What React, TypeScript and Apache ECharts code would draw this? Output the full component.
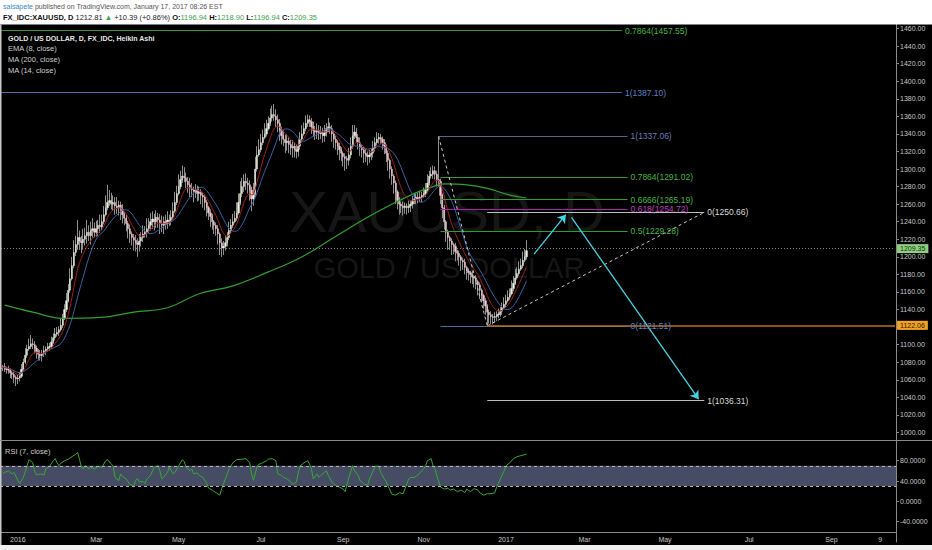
import { useEffect, useRef } from "react";
import * as echarts from "echarts";

// x axis: one category per weekday, Dec 21 2015 .. Oct 19 2017
const FIRST_DAY = "2015-12-21";
const BAR_COUNT = 479;

const tickDates = ["2016-01-01", "2016-03-01", "2016-05-02", "2016-07-01", "2016-09-01", "2016-11-01",
    "2017-01-02", "2017-03-01", "2017-05-01", "2017-07-03", "2017-09-01", "2017-10-09"];
const tickLabels = ["2016", "Mar", "May", "Jul", "Sep", "Nov", "2017", "Mar", "May", "Jul", "Sep", "9"];

const priceTicks = [1000, 1020, 1040, 1060, 1080, 1100, 1120, 1140, 1160, 1180, 1200, 1220, 1240, 1260,
    1280, 1300, 1320, 1340, 1360, 1380, 1400, 1420, 1440, 1460];
const rsiTicks = [-40, 0, 40, 80];

// Heikin Ashi closes, one per bar (Dec 21 2015 .. Jan 17 2017)
const haOpenFirst = 1073;
const haClose = [
    1074, 1075, 1072, 1073, 1071, 1068, 1066, 1063, 1061, 1062,
    1064, 1072, 1080, 1088, 1095, 1098, 1101, 1100, 1096, 1092,
    1089, 1087, 1090, 1093, 1095, 1097, 1098, 1103, 1108, 1112,
    1114, 1117, 1122, 1130, 1140, 1150, 1162, 1175, 1190, 1205,
    1214, 1222, 1218, 1216, 1220, 1224, 1228, 1224, 1230, 1232,
    1228, 1232, 1236, 1234, 1240, 1248, 1256, 1262, 1264, 1260,
    1262, 1258, 1256, 1259, 1254, 1248, 1244, 1238, 1232, 1226,
    1222, 1219, 1216, 1214, 1218, 1222, 1226, 1228, 1232, 1236,
    1240, 1243, 1240, 1245, 1242, 1238, 1236, 1240, 1238, 1242,
    1240, 1245, 1252, 1262, 1272, 1280, 1288, 1292, 1290, 1286,
    1282, 1278, 1276, 1274, 1276, 1272, 1274, 1270, 1268, 1262,
    1256, 1250, 1246, 1240, 1236, 1232, 1226, 1216, 1210, 1212,
    1216, 1222, 1230, 1236, 1240, 1244, 1250, 1262, 1272, 1280,
    1286, 1284, 1282, 1276, 1266, 1272, 1300, 1316, 1322, 1330,
    1336, 1340, 1346, 1352, 1358, 1362, 1360, 1356, 1352, 1344,
    1338, 1334, 1330, 1332, 1328, 1324, 1326, 1322, 1320, 1326,
    1334, 1340, 1346, 1352, 1356, 1354, 1348, 1344, 1342, 1344,
    1340, 1342, 1338, 1342, 1346, 1348, 1346, 1340, 1334, 1330,
    1326, 1322, 1318, 1314, 1312, 1310, 1316, 1326, 1338, 1342,
    1336, 1330, 1325, 1322, 1318, 1316, 1314, 1316, 1318, 1324,
    1330, 1334, 1336, 1334, 1330, 1326, 1318, 1310, 1300, 1292,
    1284, 1274, 1264, 1260, 1258, 1256, 1258, 1256, 1258, 1260,
    1264, 1266, 1268, 1266, 1268, 1270, 1272, 1276, 1284, 1292,
    1294, 1298, 1294, 1288, 1286, 1270, 1256, 1240, 1228, 1222,
    1218, 1214, 1212, 1206, 1204, 1200, 1196, 1194, 1188, 1184,
    1182, 1180, 1177, 1176, 1172, 1168, 1162, 1156, 1150, 1144,
    1137, 1134, 1132, 1131, 1132, 1134, 1135, 1138, 1142, 1146,
    1150, 1154, 1158, 1164, 1170, 1176, 1181, 1186, 1190, 1196,
    1200, 1207,
];
// wick length above / below the body, per bar
const wickUp = [
    3, 2, 4, 2, 3, 2, 2, 3, 2, 4,
    5, 6, 4, 8, 5, 9, 10, 6, 4, 3,
    3, 5, 4, 6, 3, 5, 4, 6, 5, 7,
    6, 4, 8, 5, 6, 9, 7, 12, 10, 14,
    10, 20, 8, 6, 12, 9, 14, 8, 10, 12,
    7, 9, 6, 12, 8, 10, 14, 20, 12, 9,
    8, 6, 10, 5, 4, 6, 3, 4, 3, 5,
    3, 4, 6, 5, 8, 6, 10, 7, 12, 8,
    10, 9, 6, 8, 5, 7, 9, 6, 8, 10,
    6, 8, 10, 12, 9, 14, 10, 12, 10, 6,
    5, 8, 6, 4, 7, 5, 6, 3, 4, 3,
    3, 2, 4, 3, 2, 3, 4, 2, 5, 6,
    8, 6, 10, 7, 9, 8, 12, 10, 14, 10,
    8, 9, 6, 5, 4, 12, 14, 10, 12, 10,
    9, 12, 10, 8, 11, 10, 12, 8, 6, 5,
    4, 6, 5, 8, 4, 5, 7, 4, 6, 8,
    8, 10, 7, 9, 6, 5, 4, 6, 5, 8,
    6, 7, 5, 8, 6, 10, 5, 4, 3, 4,
    3, 4, 3, 2, 4, 3, 8, 10, 12, 8,
    5, 4, 6, 3, 4, 5, 4, 6, 5, 8,
    6, 8, 5, 4, 3, 4, 2, 3, 2, 3,
    2, 3, 2, 4, 3, 5, 4, 3, 6, 4,
    5, 6, 4, 5, 6, 4, 7, 8, 10, 6,
    8, 6, 5, 4, 49, 3, 2, 3, 2, 3,
    2, 3, 2, 4, 2, 3, 2, 3, 4, 2,
    3, 2, 4, 2, 3, 2, 3, 2, 2, 3,
    2, 3, 4, 3, 5, 4, 6, 5, 6, 8,
    7, 8, 6, 9, 8, 10, 7, 9, 8, 10,
    9, 12,
];
const wickDn = [
    3, 4, 3, 5, 4, 6, 5, 7, 8, 6,
    4, 2, 3, 2, 3, 2, 3, 5, 6, 8,
    7, 5, 6, 4, 5, 3, 4, 3, 2, 3,
    3, 4, 2, 3, 2, 3, 2, 3, 2, 3,
    4, 6, 10, 12, 8, 7, 9, 6, 10, 8,
    6, 5, 8, 7, 4, 3, 2, 3, 4, 6,
    8, 10, 7, 9, 12, 10, 8, 9, 11, 10,
    9, 12, 10, 14, 8, 6, 5, 4, 6, 5,
    6, 8, 10, 7, 9, 12, 8, 10, 7, 6,
    5, 4, 3, 2, 3, 2, 3, 4, 5, 8,
    9, 10, 8, 12, 7, 9, 8, 10, 12, 9,
    10, 8, 12, 9, 10, 8, 12, 14, 10, 8,
    5, 4, 3, 4, 3, 2, 3, 2, 3, 4,
    6, 8, 10, 12, 14, 8, 4, 3, 2, 3,
    3, 2, 3, 2, 3, 4, 5, 8, 10, 12,
    10, 8, 12, 9, 10, 8, 11, 9, 8, 6,
    4, 3, 2, 3, 4, 6, 8, 7, 9, 8,
    7, 6, 8, 7, 5, 4, 6, 9, 10, 8,
    10, 12, 9, 11, 14, 10, 6, 4, 3, 4,
    6, 8, 10, 9, 11, 8, 10, 7, 6, 5,
    4, 3, 5, 6, 8, 9, 10, 12, 11, 10,
    12, 14, 10, 12, 8, 9, 7, 8, 6, 7,
    5, 4, 6, 5, 4, 6, 3, 4, 2, 3,
    3, 5, 6, 8, 6, 10, 12, 9, 11, 14,
    10, 12, 9, 11, 8, 10, 12, 9, 8, 10,
    9, 10, 8, 11, 9, 12, 10, 8, 9, 10,
    15, 10, 9, 8, 6, 5, 4, 3, 4, 2,
    3, 2, 3, 2, 3, 2, 2, 3, 2, 3,
    2, 3,
];

// MA(200) at these bars
const ma200Bars = [2, 17, 33, 53, 71, 89, 106, 124, 142, 160, 178, 196, 210, 223, 231, 237, 249, 260, 271, 281];
const ma200Vals = [1145, 1137, 1130, 1131, 1137, 1142, 1158, 1167, 1182, 1199, 1222, 1245, 1261, 1274, 1280, 1283, 1282, 1278, 1271, 1267];

// RSI(7) [bar, value]
const rsiPoints = [
    [1, 55], [2, 57], [4, 60], [6, 54], [7, 57], [9, 41], [10, 35], [12, 47], [14, 70], [15, 82], [17, 76], [18, 60],
    [19, 52], [21, 54], [23, 52], [24, 64], [26, 69], [28, 80], [29, 84], [30, 76], [31, 70], [32, 75], [34, 80],
    [36, 83], [38, 88], [40, 93], [41, 96], [42, 83], [43, 67], [44, 64], [45, 70], [47, 64], [48, 67], [50, 64],
    [52, 69], [54, 67], [56, 80], [57, 82], [59, 73], [60, 70], [61, 47], [63, 41], [64, 54], [65, 49], [67, 44],
    [68, 38], [69, 33], [71, 31], [72, 41], [73, 45], [74, 38], [76, 39], [77, 35], [78, 44], [80, 51], [81, 60],
    [82, 67], [84, 70], [85, 60], [86, 44], [87, 47], [89, 57], [90, 67], [92, 54], [93, 57], [95, 70], [97, 82],
    [98, 78], [99, 67], [101, 60], [102, 64], [103, 54], [105, 56], [106, 51], [108, 47], [110, 35], [111, 26],
    [113, 22], [115, 17], [117, 12], [118, 25], [120, 44], [122, 64], [124, 76], [126, 82], [129, 83], [131, 84],
    [133, 76], [134, 54], [135, 41], [137, 70], [138, 73], [140, 76], [142, 80], [143, 83], [145, 84], [147, 80],
    [148, 54], [150, 51], [151, 47], [153, 44], [155, 38], [156, 33], [158, 38], [159, 57], [160, 70], [162, 76],
    [164, 80], [165, 73], [166, 64], [167, 44], [169, 54], [170, 47], [171, 51], [173, 57], [174, 60], [175, 51],
    [177, 38], [179, 31], [181, 28], [183, 24], [184, 19], [186, 47], [188, 70], [189, 60], [191, 51], [192, 41],
    [194, 35], [196, 31], [197, 44], [199, 60], [200, 69], [202, 69], [203, 57], [205, 44], [206, 38], [208, 22],
    [209, 14], [211, 12], [213, 17], [215, 15], [216, 25], [218, 44], [219, 47], [221, 47], [223, 52], [224, 56],
    [226, 64], [227, 70], [228, 80], [230, 84], [231, 70], [232, 64], [233, 51], [235, 28], [237, 24], [239, 26],
    [240, 22], [242, 24], [244, 19], [246, 22], [248, 17], [249, 24], [251, 19], [253, 25], [255, 22], [256, 17],
    [258, 12], [260, 15], [262, 15], [264, 17], [265, 28], [267, 44], [269, 60], [270, 70], [272, 76], [274, 84],
    [276, 88], [278, 90], [281, 93],
];

// drawings: fib levels, trend legs, arrows, horizontal lines
const fibLines = [
    {text: "0.7864(1457.55)", price: 1457.55, from: 0, to: 332, tone: "green"},
    {text: "1(1387.10)", price: 1387.10, from: 0, to: 332, tone: "blue"},
    {text: "1(1337.06)", price: 1337.06, from: 234, to: 335, tone: "slate"},
    {text: "0.7864(1291.02)", price: 1291.02, from: 235, to: 335, tone: "green"},
    {text: "0.6666(1265.19)", price: 1265.19, from: 235, to: 335, tone: "green"},
    {text: "0.618(1254.72)", price: 1254.72, from: 235, to: 335, tone: "magenta"},
    {text: "0.5(1229.28)", price: 1229.28, from: 235, to: 335, tone: "green"},
    {text: "0(1121.51)", price: 1121.51, from: 235, to: 335, tone: "blue"},
    {text: "0(1250.66)", price: 1250.66, from: 260, to: 376, tone: "white"},
    {text: "1(1036.31)", price: 1036.31, from: 260, to: 376, tone: "white"},
];
const trendLegs = [
    [[234, 1337.06], [260, 1121.51]],
    [[260, 1121.51], [376, 1250.66]],
];
const arrows = [
    [[285, 1203], [302, 1248]],
    [[305, 1245], [373, 1038]],
];
const lastPrice = {price: 1209.35, from: 0, to: 478};
const hLine = {price: 1122.06, from: 260, to: 478};

const FONT = "Liberation Sans, DejaVu Sans, Arial, sans-serif";
const TONES: Record<string, { line: string; text: string }> = {
    green: {line: "#2f9e2f", text: "#45b845"},
    blue: {line: "#4c6cac", text: "#5f80c4"},
    slate: {line: "#58648a", text: "#6a7fb8"},
    magenta: {line: "#a826a8", text: "#c23cc2"},
    white: {line: "#bcbcbc", text: "#d8d8d8"},
};

function buildDates() {
    const out: string[] = [];
    const d = new Date(FIRST_DAY + "T00:00:00Z");
    while (out.length < BAR_COUNT) {
        const wd = d.getUTCDay();
        if (wd !== 0 && wd !== 6) out.push(d.toISOString().slice(0, 10));
        d.setUTCDate(d.getUTCDate() + 1);
    }
    return out;
}

function boxLabel(text: string, bg: string, fg: string) {
    return {show: true, position: "end", distance: 2, formatter: text, color: fg, backgroundColor: bg,
        padding: [1, 3, 1, 3], fontSize: 7, fontFamily: FONT};
}

function buildOption() {
    const dates = buildDates();
    const opens = haClose.map((_, i) => (i === 0 ? haOpenFirst : haClose[i - 1]));
    const wicks = haClose.map((c, i) => {
        const o = opens[i];
        return [o, c, Math.min(o, c) - wickDn[i], Math.max(o, c) + wickUp[i]];
    });
    const bodies = haClose.map((c, i) => {
        const o = opens[i];
        return [o, c, Math.min(o, c), Math.max(o, c)];
    });

    const k = 2 / 9;
    let e = haClose[0];
    const ema8 = haClose.map((c, i) => {
        e = i === 0 ? c : c * k + e * (1 - k);
        return +e.toFixed(2);
    });
    const ma14 = haClose.map((_, i) => {
        const s = haClose.slice(Math.max(0, i - 13), i + 1);
        return +(s.reduce((a, b) => a + b, 0) / s.length).toFixed(2);
    });
    const ma200 = ma200Bars.map((b, i) => [b, ma200Vals[i]]);

    const fibData = fibLines.map(f => [
        {
            coord: [f.from, f.price],
            lineStyle: {color: TONES[f.tone].line, width: 1, type: "solid"},
            label: {show: true, position: "end", distance: 3, formatter: f.text, color: TONES[f.tone].text, fontSize: 8.5, fontFamily: FONT},
        },
        {coord: [f.to, f.price]},
    ]);
    const legData = trendLegs.map(l => [{coord: l[0]}, {coord: l[1]}]);
    const arrowData = arrows.map(l => [{coord: l[0]}, {coord: l[1]}]);

    const axisText = {color: "#c8c8c8", fontSize: 7, fontFamily: FONT};
    const labelOn = (_i: number, v: string) => tickDates.includes(v);
    const noHover = {disabled: true};

    return {
        animation: false,
        backgroundColor: "#000",
        grid: [
            {left: 0, right: 36, top: 10.92, height: 439.15},
            {left: 0, right: 36, top: 440.4, height: 101.5},
            {left: 0, right: 36, top: 441, height: 91},
        ],
        xAxis: [
            {type: "category", gridIndex: 0, data: dates, show: false},
            {type: "category", gridIndex: 1, data: dates, show: false},
            {
                type: "category", gridIndex: 2, data: dates,
                axisLine: {lineStyle: {color: "#8a8a8a"}},
                axisTick: {interval: labelOn, alignWithLabel: true, length: 3, lineStyle: {color: "#8a8a8a"}},
                axisLabel: {...axisText, margin: 4, interval: labelOn, formatter: (v: string) => tickLabels[tickDates.indexOf(v)] ?? ""},
                splitLine: {show: false},
            },
        ],
        yAxis: [
            {
                type: "value", gridIndex: 0, position: "right", min: 980, max: 1480, interval: 20,
                axisLine: {show: true, lineStyle: {color: "#8a8a8a"}},
                axisTick: {show: true, length: 3, customValues: priceTicks, lineStyle: {color: "#8a8a8a"}},
                axisLabel: {...axisText, margin: 4, customValues: priceTicks, formatter: (v: number) => v.toFixed(2)},
                splitLine: {show: false},
            },
            {
                type: "value", gridIndex: 1, position: "right", min: -80, max: 120, interval: 40,
                axisLine: {show: true, lineStyle: {color: "#8a8a8a"}},
                axisTick: {show: true, length: 3, customValues: rsiTicks, lineStyle: {color: "#8a8a8a"}},
                axisLabel: {...axisText, margin: 4, customValues: rsiTicks, formatter: (v: number) => v.toFixed(4)},
                splitLine: {show: false},
            },
            {type: "value", gridIndex: 2, show: false, min: 0, max: 1},
        ],
        series: [
            {
                type: "candlestick", xAxisIndex: 0, yAxisIndex: 0, data: wicks, barWidth: 0.6,
                itemStyle: {color: "#8f8f8f", color0: "#8f8f8f", borderColor: "#8f8f8f", borderColor0: "#8f8f8f", borderWidth: 1},
                emphasis: noHover,
            },
            {
                type: "candlestick", xAxisIndex: 0, yAxisIndex: 0, data: bodies, barWidth: 1.7,
                itemStyle: {color: "#eaf6e0", color0: "#f6cad3", borderColor: "#eaf6e0", borderColor0: "#f6cad3", borderWidth: 0.4},
                emphasis: noHover,
            },
            {
                type: "line", xAxisIndex: 0, yAxisIndex: 0, data: ma200, smooth: 0.4, symbol: "none",
                lineStyle: {color: "#2ea12e", width: 1.2},
            },
            {
                type: "line", xAxisIndex: 0, yAxisIndex: 0, data: ma14, symbol: "none",
                lineStyle: {color: "#3f5ea8", width: 1},
                markLine: {silent: true, symbol: ["none", "none"], emphasis: noHover, data: fibData},
            },
            {
                type: "line", xAxisIndex: 0, yAxisIndex: 0, data: ema8, symbol: "none",
                lineStyle: {color: "#a01c1c", width: 1},
                markLine: {
                    silent: true, symbol: ["none", "none"], emphasis: noHover, label: {show: false},
                    lineStyle: {color: "#c8c8c8", width: 1, type: [3, 3]}, data: legData,
                },
            },
            {
                type: "line", xAxisIndex: 0, yAxisIndex: 0, data: [], symbol: "none",
                markLine: {
                    silent: true, symbol: ["none", "arrow"], symbolSize: 8, emphasis: noHover, label: {show: false},
                    lineStyle: {color: "#3ed6e6", width: 1.3, type: "solid"}, itemStyle: {color: "#3ed6e6"}, data: arrowData,
                },
            },
            {
                type: "line", xAxisIndex: 0, yAxisIndex: 0, data: [], symbol: "none",
                markLine: {
                    silent: true, symbol: ["none", "none"], emphasis: noHover,
                    lineStyle: {color: "#8a8a8a", width: 1, type: [1, 2]},
                    label: boxLabel(lastPrice.price.toFixed(2), "#8fcf7f", "#14340f"),
                    data: [[{coord: [lastPrice.from, lastPrice.price]}, {coord: [lastPrice.to, lastPrice.price]}]],
                },
            },
            {
                type: "line", xAxisIndex: 0, yAxisIndex: 0, data: [], symbol: "none", color: "#b8701f",
                markLine: {
                    silent: true, symbol: ["none", "none"], emphasis: noHover,
                    lineStyle: {color: "#b8701f", width: 1.6, type: "solid", opacity: 1},
                    label: boxLabel(hLine.price.toFixed(2), "#f3a21f", "#2a1800"),
                    data: [[{coord: [hLine.from, hLine.price]}, {coord: [hLine.to, hLine.price]}]],
                },
            },
            {
                type: "line", xAxisIndex: 1, yAxisIndex: 1, data: rsiPoints, symbol: "none",
                lineStyle: {color: "#36a936", width: 1},
                markArea: {silent: true, itemStyle: {color: "#454c63"}, data: [[{yAxis: 30}, {yAxis: 70}]]},
                markLine: {
                    silent: true, symbol: ["none", "none"], label: {show: false}, emphasis: noHover,
                    lineStyle: {color: "#b4b4b4", width: 1, type: [3, 3]},
                    data: [{yAxis: 70}, {yAxis: 30}],
                },
            },
        ],
        graphic: [
            {type: "text", x: 447, y: 211, z: 0, style: {text: "XAUUSD, D", fill: "#161616", fontSize: 58, fontFamily: FONT, align: "center", verticalAlign: "middle"}},
            {type: "text", x: 449, y: 268, z: 0, style: {text: "GOLD / US DOLLAR", fill: "#161616", fontSize: 29, fontFamily: FONT, align: "center", verticalAlign: "middle"}},
            {type: "rect", z: 100, shape: {x: 0, y: 0, width: 932, height: 24.5}, style: {fill: "#ffffff"}},
            {type: "rect", z: 100, shape: {x: 0, y: 545, width: 932, height: 5}, style: {fill: "#f0f0f0"}},
            {type: "rect", z: 100, shape: {x: 0, y: 24.5, width: 1.5, height: 520.5}, style: {fill: "#c8c8c8"}},
            {type: "rect", z: 100, shape: {x: 0, y: 440, width: 932, height: 1}, style: {fill: "#8a8a8a"}},
            {
                type: "text", x: 3, y: 6.5, z: 101,
                style: {
                    text: "{u|salsapete}{t| published on TradingView.com, January 17, 2017 08:26 EST}",
                    verticalAlign: "middle",
                    rich: {
                        u: {fill: "#3a86d0", fontSize: 7, fontFamily: FONT},
                        t: {fill: "#555555", fontSize: 7, fontFamily: FONT},
                    },
                },
            },
            {
                type: "text", x: 3, y: 17.5, z: 101,
                style: {
                    text: "{b|FX_IDC:XAUUSD, D}{n| 1212.81 }{g|▲}{n| +10.39 (+0.86%) }{b|O:}{g|1196.94}{b| H:}{g|1218.90}{b| L:}{g|1196.94}{b| C:}{g|1209.35}",
                    verticalAlign: "middle",
                    rich: {
                        b: {fill: "#111111", fontSize: 7.5, fontWeight: "bold", fontFamily: FONT},
                        n: {fill: "#222222", fontSize: 7.5, fontFamily: FONT},
                        g: {fill: "#3ca54a", fontSize: 7.5, fontFamily: FONT},
                    },
                },
            },
            {type: "text", x: 8, y: 38, z: 101, style: {text: "GOLD / US DOLLAR, D, FX_IDC, Heikin Ashi", fill: "#e6e6e6", fontSize: 7, fontWeight: "bold", fontFamily: FONT, verticalAlign: "middle"}},
            {type: "text", x: 8, y: 48.5, z: 101, style: {text: "EMA (8, close)", fill: "#cfcfcf", fontSize: 7.5, fontFamily: FONT, verticalAlign: "middle"}},
            {type: "text", x: 8, y: 59.5, z: 101, style: {text: "MA (200, close)", fill: "#cfcfcf", fontSize: 7.5, fontFamily: FONT, verticalAlign: "middle"}},
            {type: "text", x: 8, y: 70, z: 101, style: {text: "MA (14, close)", fill: "#cfcfcf", fontSize: 7.5, fontFamily: FONT, verticalAlign: "middle"}},
            {type: "text", x: 5, y: 451.5, z: 101, style: {text: "RSI (7, close)", fill: "#cfcfcf", fontSize: 7.5, fontFamily: FONT, verticalAlign: "middle"}},
        ],
    };
}

export default function App() {
    const domRef = useRef<HTMLDivElement>(null);

    useEffect(() => {
        if (!domRef.current) return;
        const chart = echarts.init(domRef.current, null, {renderer: "svg"});
        chart.setOption(buildOption() as any);
        return () => chart.dispose();
    }, []);

    return <div ref={domRef} style={{position: "fixed", left: 0, top: 0, width: 932, height: 550}} />;
}
